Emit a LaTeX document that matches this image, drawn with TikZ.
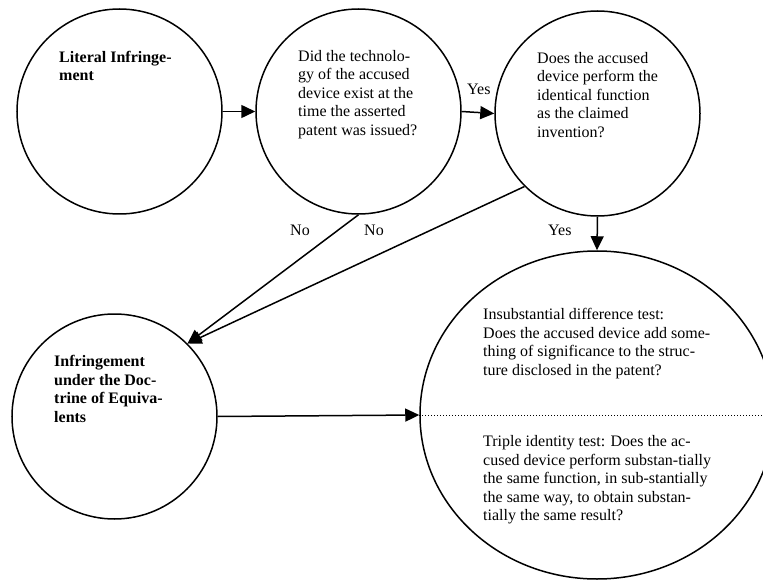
\documentclass[tikz,border=0pt]{standalone}
\usepackage{fontspec}
\setmainfont{Liberation Serif}
\usetikzlibrary{arrows.meta,shapes.geometric}
\begin{document}
\begin{tikzpicture}[x=1pt,y=1pt,
  circ/.style={circle,draw,line width=1.5pt,minimum size=205pt,inner sep=0pt},
  txt/.style={anchor=north west,inner sep=0pt,align=left,font=\fontsize{16}{18.5}\selectfont},
  btxt/.style={anchor=north west,inner sep=0pt,align=left,font=\fontsize{16}{18.5}\selectfont\bfseries},
  lbl/.style={anchor=base west,inner sep=0pt,font=\fontsize{16}{18.5}\selectfont},
  arr/.style={line width=1.5pt,-{Triangle[length=14pt,width=13pt]}},
  sep/.style={line width=0.9pt,dash pattern=on 1pt off 2pt}]
\useasboundingbox (0,0) rectangle (763,-580);
\clip (0,0) rectangle (763,-580);
% shapes
\node[circ] (c1) at (119.5,-111.5) {};
\node[circ] (c2) at (358.5,-111.5) {};
\node[circ] (c3) at (597.5,-113.5) {};
\node[circ] (c5) at (114.5,-416.5) {};
\node[ellipse,draw,line width=1.5pt,minimum width=354pt,minimum height=328pt,inner sep=0pt] (e) at (597,-415) {};
% texts
\node[btxt] (t1) at (59,-51) {Literal Infringe-\\ment};
\node[txt] (t2) at (298,-50) {Did the technolo-\\gy of the accused\\device exist at the\\time the asserted\\patent was issued?};
\node[txt] (t3) at (537,-52) {Does the accused\\device perform the\\identical function\\as the claimed\\invention?};
\node[btxt] (t5) at (54,-355.5) {Infringement\\under the Doc-\\trine of Equiva-\\lents};
\node[txt] (t4a) at (483,-308.5) {Insubstantial difference test:\\Does the accused device add some-\\thing of significance to the struc-\\ture disclosed in the patent?};
\node[txt] (t4b) at (483,-435.5) {Triple identity test: Does the ac-\\cused device perform substan-tially\\the same function, in sub-stantially\\the same way, to obtain substan-\\tially the same result?};
% labels
\node[lbl] (yes1) at (467,-95) {Yes};
\node[lbl] (yes2) at (548,-236) {Yes};
\node[lbl] (no1) at (290,-236) {No};
\node[lbl] (no2) at (364,-236) {No};
% connectors
\draw[sep] (e.west) -- (e.east);
\draw[arr] (c1.east) -- (c2.west);
\draw[arr] (c2.east) -- (c3.west);
\draw[arr] (c3.south) -- (e.north);
\draw[arr] (c2.south) -- (c5.45);
\draw[arr] (c3.225) -- (c5.45);
\draw[arr] (c5.east) -- (e.west);
\end{tikzpicture}
\end{document}
